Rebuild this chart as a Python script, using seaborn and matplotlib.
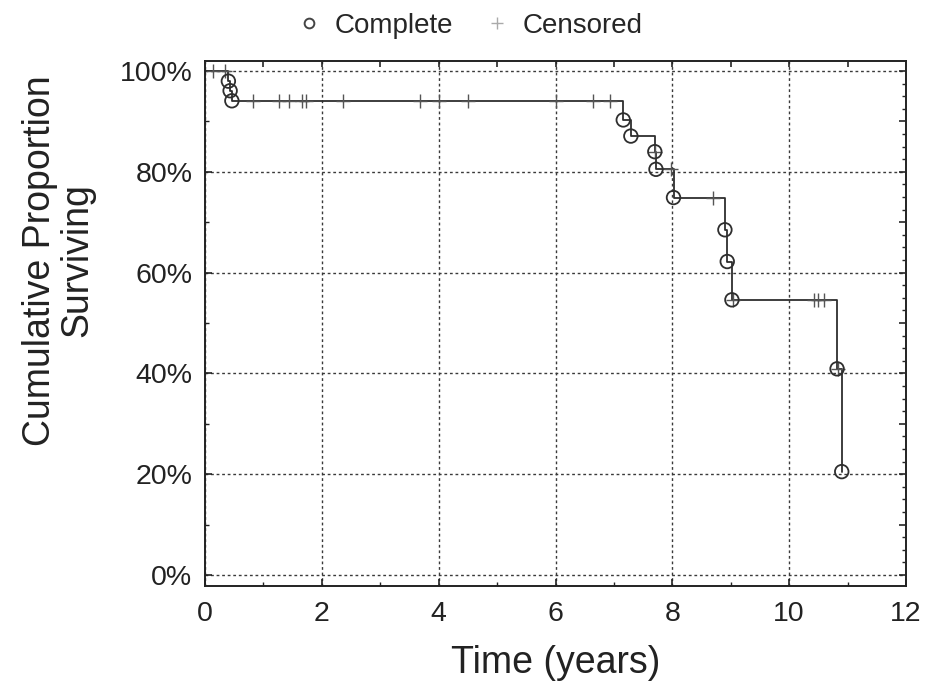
import numpy as np
import pandas as pd
import matplotlib
matplotlib.use("Agg")
import matplotlib.pyplot as plt
from matplotlib.lines import Line2D
from matplotlib.ticker import MultipleLocator, FuncFormatter
import seaborn as sns

# ---- data ----
event_times = [0.40, 0.43, 0.46, 7.16, 7.29, 7.70, 7.72, 8.02, 8.90, 8.94, 9.02, 10.82, 10.90]
event_surv = [98.0, 96.1, 94.1, 90.3, 87.1, 84.0, 80.5, 74.9, 68.5, 62.2, 54.6, 40.9, 20.5]
censored_times = [0.14, 0.34, 0.83, 1.26, 1.44, 1.66, 1.73, 2.37, 3.68, 4.01, 4.51,
                  6.01, 6.65, 6.93, 7.71, 7.97, 8.70, 9.04, 10.42, 10.50, 10.59, 10.84]
x_ticks = [0, 2, 4, 6, 8, 10, 12]
y_ticks = [0, 20, 40, 60, 80, 100]

sns.set_theme(style="white")
plt.rcParams['font.family'] = ['Liberation Sans', 'DejaVu Sans']

step_x = np.array([0.0] + event_times)
step_y = np.array([100.0] + event_surv)

def surv_at(t):
    idx = np.searchsorted(step_x, t, side='right') - 1
    return step_y[idx]

cens_y = [surv_at(t) for t in censored_times]

steps = pd.DataFrame({'time': step_x, 'surv': step_y})
events = pd.DataFrame({'time': event_times, 'surv': event_surv})
cens = pd.DataFrame({'time': censored_times, 'surv': cens_y})

fig = plt.figure(figsize=(9.25, 6.93), dpi=100)
ax = fig.add_axes([205/925, 1-586/693, (906-205)/925, (586-61)/693])

line_col = '#2e2e2e'
sns.lineplot(data=steps, x='time', y='surv', drawstyle='steps-post', estimator=None,
             sort=False, color=line_col, lw=1.3, ax=ax, legend=False)
sns.scatterplot(data=cens, x='time', y='surv', marker='+', s=110, color='#555555',
                linewidth=1.0, ax=ax, legend=False, zorder=4)
sns.scatterplot(data=events, x='time', y='surv', marker='o', s=95, facecolors='none',
                edgecolor=line_col, linewidth=1.3, ax=ax, legend=False, zorder=5)

ax.set_xlim(0, 12)
ax.set_ylim(-2.2, 102)
ax.set_xticks(x_ticks)
ax.set_yticks(y_ticks)
ax.yaxis.set_major_formatter(FuncFormatter(lambda v, p: f"{v:.0f}%"))
ax.xaxis.set_minor_locator(MultipleLocator(1))
ax.yaxis.set_minor_locator(MultipleLocator(10))

ax.grid(True, which='major', color='#3a3a3a', linestyle=(0, (2, 2)), linewidth=1.0)
for s in ax.spines.values():
    s.set_visible(True)
    s.set_color('#222222')
    s.set_linewidth(1.4)

ax.tick_params(axis='both', which='major', direction='in', length=5, width=1.2,
               labelsize=20.5, pad=11, colors='#222222', labelcolor='#222222')
ax.tick_params(axis='both', which='minor', direction='in', length=3, width=1.0,
               colors='#222222')
ax.tick_params(axis='y', which='major', pad=9)

# secondary tick marks on top and right (as in the reference frame)
axr = ax.twinx()
axr.set_ylim(ax.get_ylim())
axr.yaxis.set_major_locator(MultipleLocator(10))
axr.yaxis.set_minor_locator(MultipleLocator(2.5))
axr.tick_params(axis='y', which='major', direction='in', length=5, width=1.2, labelright=False)
axr.tick_params(axis='y', which='minor', direction='in', length=3, width=1.0)
axr.grid(False)
axt = ax.twiny()
axt.set_xlim(ax.get_xlim())
axt.xaxis.set_major_locator(MultipleLocator(1))
axt.tick_params(axis='x', which='major', direction='in', length=4, width=1.2, labeltop=False)
axt.grid(False)
for a in (axr, axt):
    for s in a.spines.values():
        s.set_visible(False)

ax.set_xlabel('Time (years)', fontsize=27, labelpad=13, color='#222222')
ax.set_ylabel('Cumulative Proportion\nSurviving', fontsize=27, color='#222222',
              linespacing=1.05)
ax.yaxis.set_label_coords(-0.157, 0.62)

handles = [
    Line2D([], [], marker='o', linestyle='none', markersize=7, markerfacecolor='none',
           markeredgecolor='#444444', markeredgewidth=1.4, label='Complete'),
    Line2D([], [], marker='+', linestyle='none', markersize=9, color='#aaaaaa',
           markeredgewidth=1.0, label='Censored'),
]
fig.legend(handles=handles, loc='upper center', bbox_to_anchor=(0.507, 1.018), ncol=2,
           frameon=False, fontsize=20, handletextpad=0.4, columnspacing=1.1,
           handlelength=1.0)

fig.savefig('out.png', dpi=100)
